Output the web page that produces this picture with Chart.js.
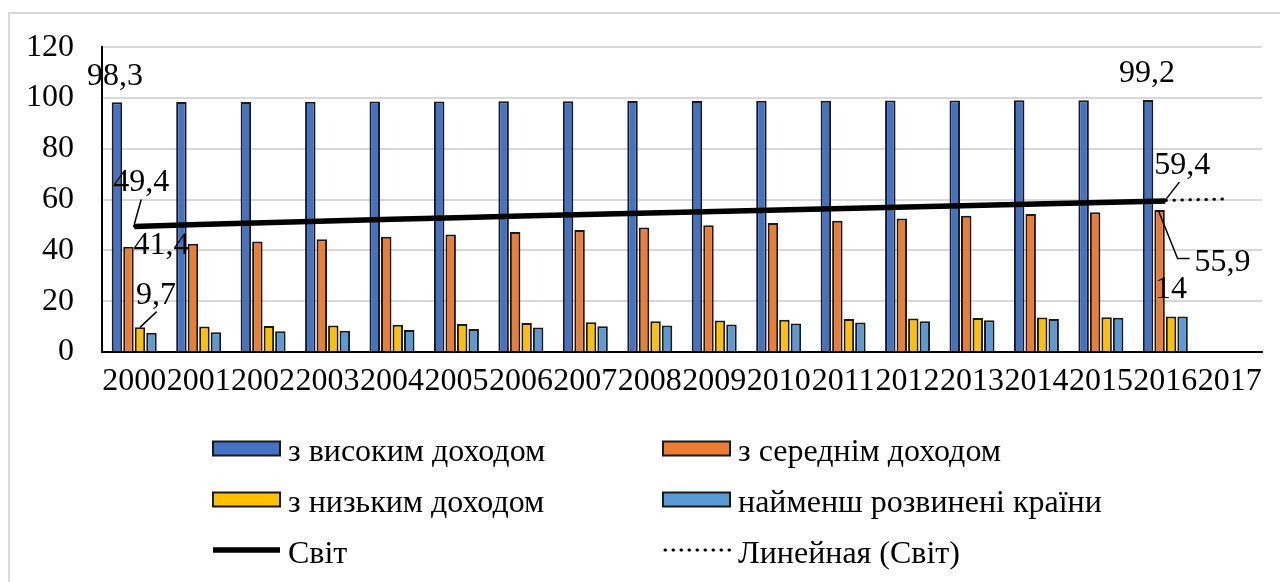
<!DOCTYPE html>
<html>
<head>
<meta charset="utf-8">
<script src="https://cdn.jsdelivr.net/npm/chart.js@4.4.1/dist/chart.umd.min.js"></script>
<style>
  html, body { margin: 0; padding: 0; background: #fff; }
  canvas { display: block; }
</style>
</head>
<body>
<canvas id="chart" width="1280" height="582"></canvas>
<script>
// Categories (the last year has no data yet)
const years = ['2000', '2001', '2002', '2003', '2004', '2005', '2006', '2007', '2008',
               '2009', '2010', '2011', '2012', '2013', '2014', '2015', '2016', '2017'];

// Series values, %
const highIncome = [98.3, 98.4, 98.4, 98.5, 98.6, 98.6, 98.7, 98.7, 98.8, 98.8, 98.9, 98.9, 99.0, 99.0, 99.1, 99.1, 99.2, null];
const middleIncome = [41.4, 42.6, 43.5, 44.4, 45.4, 46.3, 47.2, 48.0, 49.0, 49.9, 50.8, 51.7, 52.6, 53.6, 54.3, 55.0, 55.9, null];
const lowIncome = [9.7, 10.0, 10.2, 10.4, 10.7, 11.0, 11.4, 11.7, 12.1, 12.4, 12.7, 13.0, 13.2, 13.4, 13.6, 13.7, 14.0, null];
const leastDeveloped = [7.6, 7.8, 8.2, 8.4, 8.7, 9.1, 9.6, 10.1, 10.4, 10.8, 11.2, 11.6, 12.1, 12.5, 13.0, 13.5, 14.0, null];
const world = [49.4, 50.2, 50.9, 51.6, 52.3, 52.9, 53.5, 54.1, 54.7, 55.3, 55.9, 56.5, 57.1, 57.7, 58.3, 58.9, 59.4, null];
// Linear trend of the world series, start and forecast end
const worldTrend = [49.6, null, null, null, null, null, null, null, null, null, null, null, null, null, null, null, null, 60.3];

// Y axis ticks
const yTicks = [0, 20, 40, 60, 80, 100, 120];

// Series names
const seriesNames = ['з високим доходом', 'з середнім доходом', 'з низьким доходом',
                     'найменш розвинені країни', 'Світ', 'Линейная (Світ)'];

const FONT = '"Liberation Serif", "Times New Roman", serif';
const FONT_SIZE = 32;

// Value labels: dataset, point index, text offset and optional leader line (relative to the mark)
const valueLabels = [
  { ds: 0, i: 0,  dx: -2, dy: -28 },
  { ds: 0, i: 16, dx: -1, dy: -29 },
  { ds: 4, i: 0,  dx: 7,  dy: -46, leader: [[7, -27], [0, -2]] },
  { ds: 4, i: 16, dx: 17, dy: -38, leader: [[14, -19], [0, -1]] },
  { ds: 1, i: 0,  dx: 33, dy: -3 },
  { ds: 1, i: 16, dx: 63, dy: 50, leader: [[-1, 1], [18, 48.5], [30, 48.5]] },
  { ds: 2, i: 0,  dx: 16, dy: -34, leader: [[16.7, -15.7], [0, 0]] },
  { ds: 2, i: 16, dx: 0,  dy: -29 }
];

const fmt = v => String(v).replace('.', ',');

// White page with the light outer frame
const framePlugin = {
  id: 'frame',
  beforeDraw(chart) {
    const ctx = chart.ctx;
    ctx.save();
    ctx.fillStyle = '#fff';
    ctx.fillRect(0, 0, chart.width, chart.height);
    ctx.strokeStyle = '#d9d9d9';
    ctx.lineWidth = 2;
    ctx.beginPath();
    ctx.moveTo(9, chart.height);
    ctx.lineTo(9, 13);
    ctx.lineTo(chart.width, 13);
    ctx.stroke();
    ctx.restore();
  }
};

// Value labels with leader lines
const labelPlugin = {
  id: 'valueLabels',
  afterDatasetsDraw(chart) {
    const ctx = chart.ctx;
    ctx.save();
    ctx.font = FONT_SIZE + 'px ' + FONT;
    ctx.fillStyle = '#000';
    ctx.strokeStyle = '#000';
    ctx.lineWidth = 1.5;
    ctx.textAlign = 'center';
    ctx.textBaseline = 'alphabetic';
    valueLabels.forEach(l => {
      const el = chart.getDatasetMeta(l.ds).data[l.i];
      const v = chart.data.datasets[l.ds].data[l.i];
      if (!el || v == null) return;
      const x = el.x, y = el.y;
      if (l.leader) {
        ctx.beginPath();
        l.leader.forEach((p, k) => {
          if (k === 0) ctx.moveTo(x + p[0], y + p[1]);
          else ctx.lineTo(x + p[0], y + p[1]);
        });
        ctx.stroke();
      }
      ctx.fillText(fmt(v), x + l.dx, y + l.dy + 10.5);
    });
    ctx.restore();
  }
};

// Two-column legend under the plot
const legendPlugin = {
  id: 'twoColLegend',
  afterDraw(chart) {
    const ctx = chart.ctx;
    const cols = [213, 663];
    const rows = [448.5, 499.5, 550];
    const sw = 67;
    ctx.save();
    ctx.font = FONT_SIZE + 'px ' + FONT;
    ctx.textAlign = 'left';
    ctx.textBaseline = 'alphabetic';
    chart.data.datasets.forEach((ds, k) => {
      const x = cols[k % 2];
      const y = rows[Math.floor(k / 2)];
      if (ds.type === 'line') {
        ctx.save();
        ctx.strokeStyle = ds.borderColor;
        ctx.lineWidth = ds.borderWidth;
        ctx.lineCap = ds.borderCapStyle || 'butt';
        ctx.setLineDash(ds.borderDash || []);
        ctx.beginPath();
        ctx.moveTo(x + (ds.borderDash ? 2 : 0), y);
        ctx.lineTo(x + sw, y);
        ctx.stroke();
        ctx.restore();
      } else {
        ctx.fillStyle = ds.backgroundColor;
        ctx.fillRect(x, y - 7, sw, 14);
        ctx.strokeStyle = '#1a1a1a';
        ctx.lineWidth = 2;
        ctx.strokeRect(x, y - 7, sw, 14);
      }
      ctx.fillStyle = '#000';
      ctx.fillText(ds.label, x + 75, y + 12.5);
    });
    ctx.restore();
  }
};

const barStyle = (color) => ({
  backgroundColor: color,
  borderColor: '#1a1a1a',
  borderWidth: 2,
  order: 2
});

new Chart(document.getElementById('chart'), {
  type: 'bar',
  data: {
    labels: years,
    datasets: [
      Object.assign({ label: seriesNames[0], data: highIncome }, barStyle('#4472C4')),
      Object.assign({ label: seriesNames[1], data: middleIncome }, barStyle('#ED7D31')),
      Object.assign({ label: seriesNames[2], data: lowIncome }, barStyle('#FFC000')),
      Object.assign({ label: seriesNames[3], data: leastDeveloped }, barStyle('#5B9BD5')),
      {
        type: 'line', label: seriesNames[4], data: world,
        borderColor: '#000', borderWidth: 5.5, pointRadius: 0, fill: false,
        tension: 0, order: 0
      },
      {
        type: 'line', label: seriesNames[5], data: worldTrend,
        borderColor: '#000', borderWidth: 3, borderDash: [0.5, 7.5], borderCapStyle: 'round',
        pointRadius: 0, fill: false, spanGaps: true, tension: 0, order: 1
      }
    ]
  },
  options: {
    responsive: false,
    animation: false,
    events: [],
    layout: { padding: { left: 0, right: 18, top: 45, bottom: 170 } },
    datasets: { bar: { categoryPercentage: 0.714, barPercentage: 0.91 } },
    plugins: {
      legend: { display: false },
      tooltip: { enabled: false },
      title: { display: false }
    },
    scales: {
      x: {
        offset: true,
        grid: { display: false, drawTicks: false },
        border: { display: true, color: '#000', width: 2 },
        ticks: {
          autoSkip: false, maxRotation: 0, minRotation: 0, padding: 10,
          color: '#000', font: { family: FONT, size: FONT_SIZE }
        },
        afterFit(scale) { scale.height = 60; }
      },
      y: {
        min: yTicks[0],
        max: yTicks[yTicks.length - 1],
        afterBuildTicks(scale) { scale.ticks = yTicks.map(v => ({ value: v })); },
        grid: { color: '#d9d9d9', lineWidth: 2, drawTicks: false },
        border: { display: true, color: '#000', width: 2 },
        ticks: { padding: 28, color: '#000', font: { family: FONT, size: FONT_SIZE } },
        afterFit(scale) { scale.width = 102; }
      }
    }
  },
  plugins: [framePlugin, labelPlugin, legendPlugin]
});
</script>
</body>
</html>
